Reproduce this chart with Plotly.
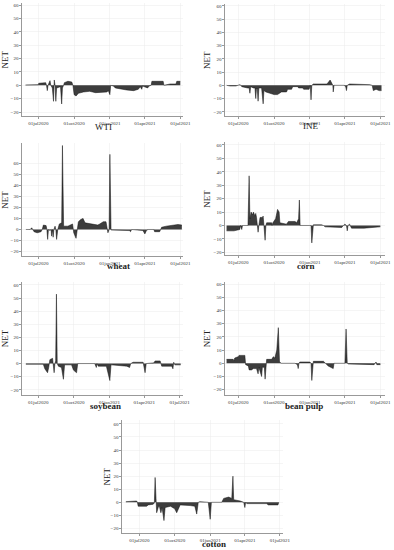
import plotly.graph_objects as go

# ---------------- data ----------------
wti_dates = ["2020-05-29","2020-06-20","2020-07-01","2020-07-02","2020-07-20","2020-07-22","2020-07-24","2020-07-26",
             "2020-07-31","2020-08-02","2020-08-06","2020-08-09","2020-08-10","2020-08-11","2020-08-13","2020-08-15",
             "2020-08-17","2020-08-27","2020-08-30","2020-09-01","2020-09-04","2020-09-06","2020-09-15","2020-09-25",
             "2020-09-28","2020-10-01","2020-10-06","2020-10-12","2020-10-25","2020-11-10","2020-11-25","2020-12-10",
             "2020-12-24","2020-12-28","2021-01-01","2021-01-03","2021-01-10","2021-01-15","2021-02-01","2021-02-13",
             "2021-03-03","2021-03-15","2021-03-20","2021-03-24","2021-03-26","2021-04-08","2021-04-12","2021-04-17",
             "2021-04-19","2021-05-05","2021-05-18","2021-05-20","2021-05-27","2021-06-05","2021-06-20","2021-06-22",
             "2021-07-01"]
wti_net = [0.3,0.5,0.5,1.5,2,0,-4,0,
           3.5,0,-2,-12,0,4,0,-12,
           -2,-1,-14,-2,0,2,3,2.5,
           0,-7,-8,-6,-5,-4.5,-5.5,-5,
           -5,-4,-7,0,-0.5,-2,-3,-3.5,
           -4,-3,-1,-3,-0.5,-2,-0.5,0,
           3,3,3,0,0.5,1,1,3,
           3]

ine_dates = ["2020-06-01","2020-06-10","2020-06-25","2020-07-01","2020-07-05","2020-07-08","2020-07-10","2020-07-25",
             "2020-07-29","2020-07-31","2020-08-02","2020-08-09","2020-08-13","2020-08-15","2020-08-17","2020-08-19",
             "2020-08-21","2020-08-23","2020-08-30","2020-09-03","2020-09-05","2020-09-10","2020-09-20","2020-10-01",
             "2020-10-10","2020-10-14","2020-10-20","2020-11-02","2020-11-05","2020-11-15","2020-11-18","2020-12-01",
             "2020-12-03","2020-12-14","2020-12-16","2020-12-30","2021-01-02","2021-01-04","2021-01-06","2021-01-10",
             "2021-02-14","2021-02-22","2021-02-27","2021-03-01","2021-03-02","2021-03-04","2021-03-30","2021-04-03",
             "2021-04-05","2021-04-07","2021-04-13","2021-05-20","2021-06-04","2021-06-10","2021-06-13","2021-06-20",
             "2021-06-28","2021-07-04"]
ine_net = [0,-0.5,-0.5,0,0.5,0,-1,-2,
           -2,-6,-1,-2,-2,-10,-2,-3,
           -12,-2,-2,-14,-4,-5,-6,-7,
           -7,-6,-5,-5,-3,-3,-1,-1,
           -2,-2,-3,-3,0,-11,0,1,
           1,4,0.5,0,-5,0,0,-1,
           -4,0,1,0.8,0.5,0,-4,-3,
           -4,-4]

wheat_dates = ["2020-05-30","2020-06-10","2020-06-14","2020-06-17","2020-06-20","2020-06-28","2020-07-08","2020-07-11",
               "2020-07-14","2020-07-21","2020-07-23","2020-07-25","2020-07-27","2020-07-31","2020-08-03","2020-08-04",
               "2020-08-06","2020-08-08","2020-08-10","2020-08-13","2020-08-15","2020-08-17","2020-08-20","2020-08-24",
               "2020-08-30","2020-09-01","2020-09-04","2020-09-15","2020-09-24","2020-09-27","2020-09-29","2020-09-30",
               "2020-10-06","2020-10-09","2020-10-12","2020-10-18","2020-10-24","2020-10-29","2020-11-15","2020-12-01",
               "2020-12-06","2020-12-15","2020-12-22","2020-12-25","2020-12-27","2020-12-30","2021-01-01","2021-01-04",
               "2021-02-08","2021-02-20","2021-02-23","2021-02-26","2021-03-27","2021-04-01","2021-04-05","2021-04-09",
               "2021-04-24","2021-04-26","2021-05-09","2021-05-12","2021-05-14","2021-05-26","2021-06-10","2021-06-25",
               "2021-07-05"]
wheat_net = [0,0,1.5,0,-2,-3,-2,0,
             4,3.5,0,-9,0,-1,0,-6,
             0,-7,0,3,0,-9,0,5,
             6,76,3,3,4,5,0,-3,
             -8,0,7,9,10,6,5,4,
             5,7,7,0,-3,0,68,-0.5,
             -1,-1,-2,0,-1,-4,-1,0,
             0,-2,-2,0,2,3,4,4.5,
             4]

corn_dates = ["2020-06-01","2020-06-20","2020-07-05","2020-07-07","2020-07-10","2020-07-12","2020-07-26","2020-07-29",
              "2020-07-31","2020-08-03","2020-08-07","2020-08-09","2020-08-13","2020-08-15","2020-08-17","2020-08-19",
              "2020-08-21","2020-08-23","2020-08-26","2020-09-01","2020-09-03","2020-09-05","2020-09-08","2020-09-10",
              "2020-09-12","2020-09-25","2020-09-26","2020-09-28","2020-10-05","2020-10-10","2020-10-14","2020-10-16",
              "2020-11-02","2020-11-07","2020-11-24","2020-11-28","2020-12-03","2020-12-05","2020-12-07","2021-01-01",
              "2021-01-04","2021-01-06","2021-01-08","2021-01-10","2021-01-31","2021-02-05","2021-02-09","2021-03-24",
              "2021-03-28","2021-04-01","2021-04-05","2021-04-07","2021-04-09","2021-04-13","2021-04-18","2021-05-20",
              "2021-07-01"]
corn_net = [-4,-4,-3,0,-3,0,0,37,
            5,10,8,10,7,9,6,0,
            -5,0,6,6,7,0,-11,0,
            2,2,0,2,5,12,10,2,
            1,3,3,2,5,19,0,0,
            0,-13,0,0.5,0.5,0,-1,-1.5,
            0,1,0,-4,0,1,-2,-2,
            -1]

soybean_dates = ["2020-05-30","2020-07-14","2020-07-18","2020-07-25","2020-07-28","2020-07-31","2020-08-07","2020-08-09",
                 "2020-08-11","2020-08-13","2020-08-15","2020-08-17","2020-08-19","2020-08-22","2020-08-30","2020-09-04",
                 "2020-09-07","2020-09-25","2020-09-30","2020-10-08","2020-10-11","2020-11-24","2020-11-28","2020-11-30",
                 "2020-12-03","2020-12-24","2021-01-02","2021-01-05","2021-02-05","2021-02-15","2021-02-22","2021-02-25",
                 "2021-03-03","2021-03-29","2021-04-03","2021-04-06","2021-04-25","2021-04-29","2021-05-12","2021-05-16",
                 "2021-06-11","2021-06-14","2021-06-16","2021-06-19","2021-07-04"]
soybean_net = [-0.5,-0.5,-4,-7,-3,3,4,0,
               -7,0,2,53,0,-2,-3,-12,
               -1,-1,-5,-7,0,0,-3,0,
               -2,-2,-13,-1,-2,-2,-3,0,
               1,1,-7,0,0.5,2,2,-2,
               -2,-4,1,-1,-1]

beanpulp_dates = ["2020-06-01","2020-06-18","2020-06-20","2020-06-22","2020-07-01","2020-07-03","2020-07-18","2020-07-20",
                  "2020-07-27","2020-07-29","2020-08-04","2020-08-09","2020-08-17","2020-08-21","2020-08-23","2020-08-30",
                  "2020-09-01","2020-09-06","2020-09-08","2020-09-10","2020-09-12","2020-09-25","2020-09-29","2020-10-03",
                  "2020-10-08","2020-10-12","2020-10-15","2020-10-20","2020-11-24","2020-11-30","2020-12-02","2020-12-04",
                  "2020-12-06","2021-01-01","2021-01-04","2021-01-06","2021-01-08","2021-01-10","2021-02-05","2021-02-10",
                  "2021-02-17","2021-03-02","2021-03-04","2021-04-01","2021-04-04","2021-04-07","2021-04-10","2021-06-15",
                  "2021-06-20","2021-06-22","2021-07-01"]
beanpulp_net = [3,3,2,4,5,6,6,-1,
                -2,-5,-5,-4,-4,-8,-3,-10,
                -3,-3,-12,0,3,3,5,4,
                10,27,1,0,0,-1,-4,0,
                1,1,0,-13,0,1.5,1.5,0,
                -2,-4,0,0,26,0,-0.5,-1,
                1,-1,-1]

cotton_dates = ["2020-05-27","2020-06-24","2020-06-26","2020-06-28","2020-07-20","2020-07-24","2020-08-06","2020-08-09",
                "2020-08-11","2020-08-13","2020-08-15","2020-08-20","2020-08-22","2020-08-26","2020-08-29","2020-09-03",
                "2020-09-06","2020-09-20","2020-10-01","2020-10-06","2020-10-10","2020-10-15","2020-11-10","2020-11-22",
                "2020-11-27","2020-12-01","2020-12-05","2020-12-18","2020-12-27","2021-01-01","2021-01-04","2021-01-31",
                "2021-02-05","2021-02-18","2021-02-26","2021-03-01","2021-03-03","2021-03-20","2021-03-29","2021-04-01",
                "2021-04-03","2021-04-06","2021-05-27","2021-06-01","2021-06-26","2021-06-28"]
cotton_net = [0.5,1,0,-3,-3,-2,-1.5,-0.5,
              19,0,-8,-3,-3,-8,-4,-14,
              -4,-3,-5,-8,-5,-2,-2.5,-3,
              -9,0,0.5,0.5,0,-13,0,0,
              3,4,3,20,2,1,0,-4,
              0,-1,-1,-2,-2,0]

y_ticks = [-20, -10, 0, 10, 20, 30, 40, 50, 60]
x_tick_dates = ["2020-07-01", "2020-10-01", "2021-01-01", "2021-04-01", "2021-07-01"]
x_tick_text = ["01jul2020", "01oct2020", "01jan2021", "01apr2021", "01jul2021"]

# ---------------- layout ----------------
W, H = 394, 550
SERIF = "Liberation Serif, Times New Roman, serif"

panels = [
    dict(label="WTI", d=wti_dates, v=wti_net, px=(22, 183), py=(3, 116), yr=(-23, 61.7),
         xr=("2020-05-20", "2021-07-08"), lab=(103, 127), netx=5, bold=False),
    dict(label="INE", d=ine_dates, v=ine_net, px=(225, 385), py=(4, 116), yr=(-23.2, 61.5),
         xr=("2020-05-28", "2021-07-13"), lab=(310, 126), netx=207, bold=False),
    dict(label="wheat", d=wheat_dates, v=wheat_net, px=(22, 183), py=(143.3, 256), yr=(-24, 78),
         xr=("2020-05-20", "2021-07-08"), lab=(118, 266), netx=5, bold=True),
    dict(label="corn", d=corn_dates, v=corn_net, px=(225, 385), py=(142.3, 255), yr=(-22, 62),
         xr=("2020-05-28", "2021-07-13"), lab=(306, 266), netx=207, bold=True),
    dict(label="soybean", d=soybean_dates, v=soybean_net, px=(22, 183), py=(281.7, 395), yr=(-24, 62.5),
         xr=("2020-05-20", "2021-07-10"), lab=(105, 406), netx=5, bold=True),
    dict(label="bean pulp", d=beanpulp_dates, v=beanpulp_net, px=(225, 385), py=(281.7, 395), yr=(-24, 61.8),
         xr=("2020-05-28", "2021-07-13"), lab=(304, 406), netx=207, bold=True),
    dict(label="cotton", d=cotton_dates, v=cotton_net, px=(122, 283), py=(420, 533), yr=(-23.5, 63),
         xr=("2020-05-17", "2021-07-09"), lab=(214, 544), netx=106, bold=True),
]

fig = go.Figure()
annotations = []
layout = dict(
    width=W, height=H,
    margin=dict(l=0, r=0, t=0, b=0, autoexpand=False),
    paper_bgcolor="white", plot_bgcolor="white",
    showlegend=False,
    font=dict(family=SERIF, color="#222"),
)

for i, p in enumerate(panels, start=1):
    xa = "x" if i == 1 else f"x{i}"
    ya = "y" if i == 1 else f"y{i}"
    fig.add_trace(go.Scatter(
        x=p["d"], y=p["v"], xaxis=xa, yaxis=ya, mode="lines",
        fill="tozeroy", fillcolor="#3d3d3d",
        line=dict(color="#111111", width=0.5), hoverinfo="skip",
    ))
    x0, x1 = p["px"]
    y0, y1 = p["py"]
    layout["xaxis" if i == 1 else f"xaxis{i}"] = dict(
        domain=[x0 / W, x1 / W], anchor=ya, type="date", range=list(p["xr"]),
        tickvals=x_tick_dates, ticktext=x_tick_text, tickangle=0, automargin=False,
        tickfont=dict(family=SERIF, size=5, color="#333"),
        ticks="outside", ticklen=2, tickwidth=0.6, tickcolor="#555",
        showline=True, linecolor="#555", linewidth=0.6,
        showgrid=True, gridcolor="#ececec", gridwidth=0.5,
        zeroline=False, fixedrange=True,
    )
    layout["yaxis" if i == 1 else f"yaxis{i}"] = dict(
        domain=[1 - y1 / H, 1 - y0 / H], anchor=xa, range=list(p["yr"]), automargin=False,
        tickvals=y_ticks, tickfont=dict(family=SERIF, size=5, color="#333"),
        ticks="outside", ticklen=2, tickwidth=0.6, tickcolor="#555",
        showline=True, linecolor="#555", linewidth=0.6,
        showgrid=True, gridcolor="#ececec", gridwidth=0.5,
        zeroline=False, fixedrange=True,
    )
    lx, ly = p["lab"]
    txt = f"<b>{p['label']}</b>" if p["bold"] else p["label"]
    annotations.append(dict(
        text=txt, x=lx / W, y=1 - ly / H, xref="paper", yref="paper",
        showarrow=False, xanchor="center", yanchor="middle",
        font=dict(family=SERIF, size=9, color="#222"),
    ))
    annotations.append(dict(
        text="NET", x=p["netx"] / W, y=1 - ((y0 + y1) / 2) / H, xref="paper", yref="paper",
        showarrow=False, xanchor="center", yanchor="middle", textangle=-90,
        font=dict(family=SERIF, size=9, color="#222"),
    ))

layout["annotations"] = annotations
fig.update_layout(**layout)
fig.write_html(
    "out.html",
    config={"displayModeBar": False, "staticPlot": True},
    post_script="document.body.style.margin='0';document.body.style.padding='0';",
)
